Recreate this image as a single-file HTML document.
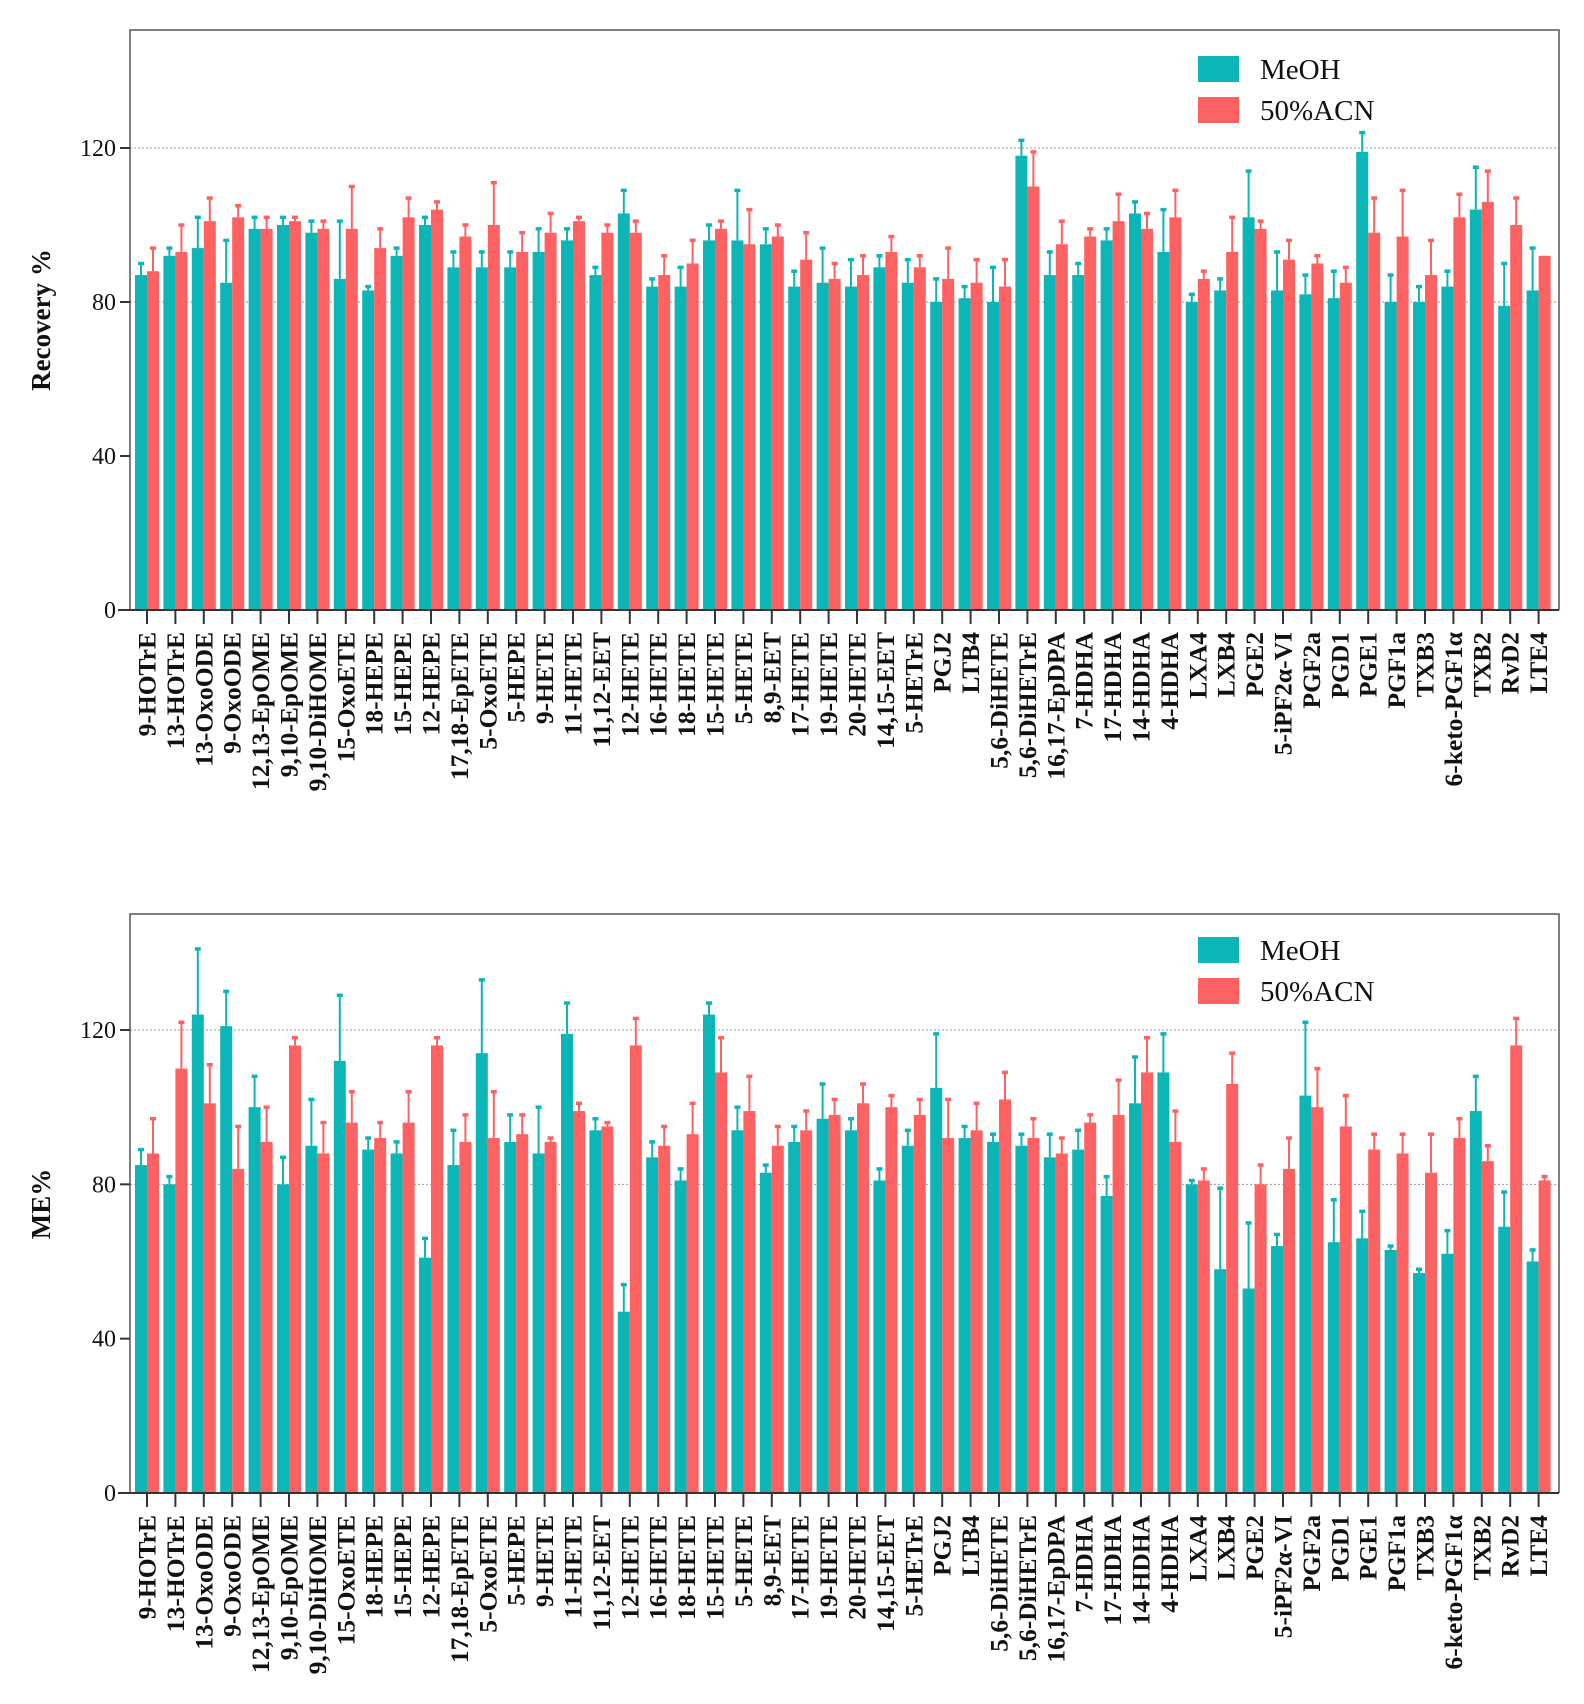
<!DOCTYPE html>
<html><head><meta charset="utf-8"><style>
html,body{margin:0;padding:0;background:#fff}
svg{display:block}
text{font-family:"Liberation Serif",serif}
</style></head><body>
<svg id="svg" width="1584" height="1704" viewBox="0 0 1584 1704"></svg>
<script>
const categories=["9-HOTrE","13-HOTrE","13-OxoODE","9-OxoODE","12,13-EpOME","9,10-EpOME","9,10-DiHOME","15-OxoETE","18-HEPE","15-HEPE","12-HEPE","17,18-EpETE","5-OxoETE","5-HEPE","9-HETE","11-HETE","11,12-EET","12-HETE","16-HETE","18-HETE","15-HETE","5-HETE","8,9-EET","17-HETE","19-HETE","20-HETE","14,15-EET","5-HETrE","PGJ2","LTB4","5,6-DiHETE","5,6-DiHETrE","16,17-EpDPA","7-HDHA","17-HDHA","14-HDHA","4-HDHA","LXA4","LXB4","PGE2","5-iPF2α-VI","PGF2a","PGD1","PGE1","PGF1a","TXB3","6-keto-PGF1α","TXB2","RvD2","LTE4"];
const yTicks=[0,40,80,120];
const recMeOH=[87,92,94,85,99,100,98,86,83,92,100,89,89,89,93,96,87,103,84,84,96,96,95,84,85,84,89,85,80,81,80,118,87,87,96,103,93,80,83,102,83,82,81,119,80,80,84,104,79,83];
const recMeOHErr=[90,94,102,96,102,102,101,101,84,94,102,93,93,93,99,99,89,109,86,89,100,109,99,88,94,91,92,91,86,84,89,122,93,90,99,106,104,82,86,114,93,87,88,124,87,84,88,115,90,94];
const recACN=[88,93,101,102,99,101,99,99,94,102,104,97,100,93,98,101,98,98,87,90,99,95,97,91,86,87,93,89,86,85,84,110,95,97,101,99,102,86,93,99,91,90,85,98,97,87,102,106,100,92];
const recACNErr=[94,100,107,105,102,102,101,110,99,107,106,100,111,98,103,102,100,101,92,96,101,104,100,98,90,92,97,92,94,91,91,119,101,99,108,103,109,88,102,101,96,92,89,107,109,96,108,114,107,92];
const meMeOH=[85,80,124,121,100,80,90,112,89,88,61,85,114,91,88,119,94,47,87,81,124,94,83,91,97,94,81,90,105,92,91,90,87,89,77,101,109,80,58,53,64,103,65,66,63,57,62,99,69,60];
const meMeOHErr=[89,82,141,130,108,87,102,129,92,91,66,94,133,98,100,127,97,54,91,84,127,100,85,95,106,97,84,94,119,95,93,93,93,94,82,113,119,81,79,70,67,122,76,73,64,58,68,108,78,63];
const meACN=[88,110,101,84,91,116,88,96,92,96,116,91,92,93,91,99,95,116,90,93,109,99,90,94,98,101,100,98,92,94,102,92,88,96,98,109,91,81,106,80,84,100,95,89,88,83,92,86,116,81];
const meACNErr=[97,122,111,95,100,118,96,104,96,104,118,98,104,98,92,101,96,123,95,101,118,108,95,99,102,106,103,102,102,101,109,97,92,98,107,118,99,84,114,85,92,110,103,93,93,93,97,90,123,82];

const NS="http://www.w3.org/2000/svg";
const svg=document.getElementById('svg');
function mk(tag,attrs,parent){const e=document.createElementNS(NS,tag);for(const k in attrs)e.setAttribute(k,attrs[k]);(parent||svg).appendChild(e);return e;}
const TEAL="#0cb5b6",RED="#fe6162";

function chart(cfg){
  const g=mk('g',{});
  
  
  const L=130,R=1559,T=cfg.top,Y0=cfg.y0,Y120=cfg.y120;
  const yS=v=>Y0-(Y0-Y120)*v/120;
  const xS=i=>147+i*28.4;
  [80,120].forEach(v=>{const l=mk('line',{x1:L,x2:R,y1:yS(v),y2:yS(v),stroke:'#999','stroke-width':1,'stroke-dasharray':'2,2'},g);
    
    });
  categories.forEach((c,i)=>{
    const cx=xS(i);
    [[cfg.a,cfg.ae,TEAL,cx-12,'meoh'],[cfg.b,cfg.be,RED,cx,'acn']].forEach(([vals,errs,col,x,s])=>{
      const v=vals[i],e=errs[i];
      const r=mk('rect',{x:x,y:yS(v),width:12,height:Y0-yS(v),fill:col},g);
      
      
      if(e>v){
        const el=mk('line',{x1:x+6,x2:x+6,y1:yS(v),y2:yS(e),stroke:col,'stroke-width':2},g);
        
        
        mk('line',{x1:x+3,x2:x+9,y1:yS(e),y2:yS(e),stroke:col,'stroke-width':3.5},g);
      }
    });
    const tk=mk('line',{x1:cx,x2:cx,y1:Y0,y2:Y0+14,stroke:'#333','stroke-width':2},g);
    
    
    const t=mk('text',{x:0,y:0,transform:`translate(${cx+8.5},${Y0+22}) rotate(-90)`,'text-anchor':'end','font-size':25.5,'font-weight':'bold',fill:'#111'},g);
    t.textContent=c;
    
    
  });
  const fr=mk('path',{d:`M${L},${Y0} L${L},${T} L${R},${T} L${R},${Y0}`,fill:'none',stroke:'#555','stroke-width':1.5},g);
  
  
  const ax=mk('line',{x1:L-12,x2:R,y1:Y0,y2:Y0,stroke:'#333','stroke-width':2},g);
  
  
  yTicks.forEach(v=>{
    mk('line',{x1:L-10,x2:L,y1:yS(v),y2:yS(v),stroke:'#333','stroke-width':2},g);
    const t=mk('text',{x:L-14,y:yS(v)+8,'text-anchor':'end','font-size':24,fill:'#111'},g);
    t.textContent=v;
    
    
  });
  const yt=mk('text',{x:0,y:0,transform:`translate(50,${cfg.ytY}) rotate(-90)`,'text-anchor':'middle','font-size':27,'font-weight':'bold',fill:'#111'},g);
  yt.textContent=cfg.ytitle;
  
  
  [[TEAL,'MeOH',cfg.leg],[RED,'50%ACN',cfg.leg+41]].forEach(([col,lab,y])=>{
    const r=mk('rect',{x:1198,y:y,width:41,height:26,fill:col},g);
    
    
    const t=mk('text',{x:1260,y:y+23,'font-size':29,fill:'#111'},g);
    t.textContent=lab;
    
    
  });
}
chart({name:'recovery-chart',top:30,y0:610,y120:148,a:recMeOH,ae:recMeOHErr,b:recACN,be:recACNErr,ytitle:'Recovery %',ytY:320,leg:56});
chart({name:'me-chart',top:914,y0:1493,y120:1030,a:meMeOH,ae:meMeOHErr,b:meACN,be:meACNErr,ytitle:'ME%',ytY:1204,leg:937});
</script>
</body></html>
